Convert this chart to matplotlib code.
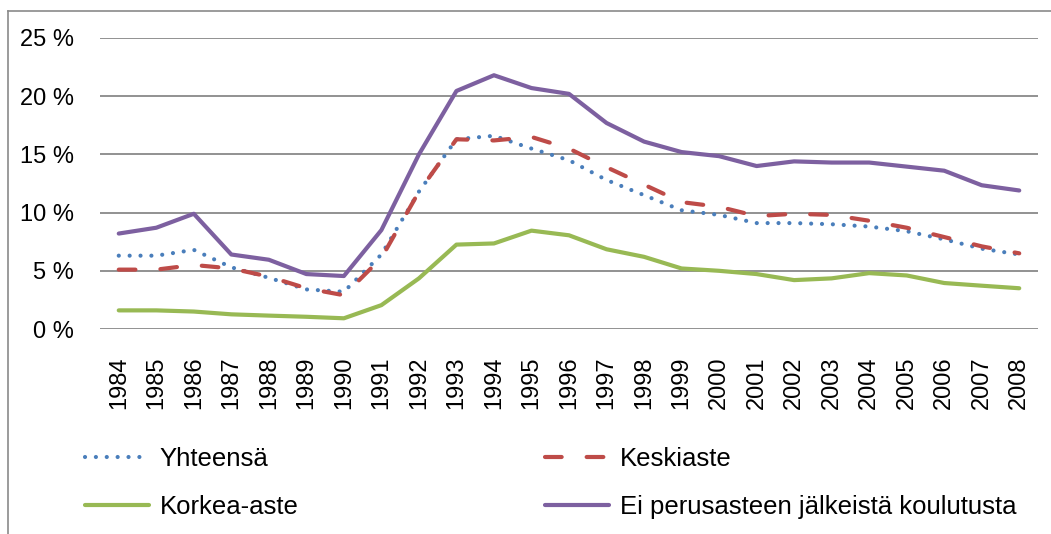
import matplotlib
matplotlib.use("Agg")
import matplotlib.pyplot as plt
from matplotlib.lines import Line2D

years = [str(y) for y in range(1984, 2009)]
yhteensa = [6.3, 6.3, 6.8, 5.3, 4.4, 3.4, 3.2, 6.4, 11.8, 16.3, 16.6, 15.5, 14.5, 12.8, 11.5, 10.2,
            9.8, 9.1, 9.1, 9.0, 8.8, 8.4, 7.7, 6.9, 6.4]
keskiaste = [5.1, 5.1, 5.5, 5.2, 4.5, 3.5, 2.9, 6.1, 11.8, 16.3, 16.2, 16.5, 15.5, 13.9, 12.4, 10.9,
             10.5, 9.7, 9.9, 9.8, 9.3, 8.7, 7.9, 7.1, 6.5]
korkea = [1.6, 1.6, 1.5, 1.26, 1.15, 1.05, 0.92, 2.05, 4.35, 7.25, 7.35, 8.45, 8.05, 6.85, 6.2, 5.2,
          5.0, 4.72, 4.2, 4.35, 4.8, 4.6, 3.95, 3.72, 3.5]
ei_perus = [8.2, 8.7, 9.9, 6.4, 5.95, 4.72, 4.55, 8.5, 15.0, 20.45, 21.8, 20.7, 20.2, 17.7, 16.1, 15.2,
            14.85, 14.0, 14.4, 14.3, 14.3, 13.95, 13.6, 12.35, 11.9]
yticks = [0, 5, 10, 15, 20, 25]
ytick_labels = ["0 %", "5 %", "10 %", "15 %", "20 %", "25 %"]
labels = ["Yhteensä", "Keskiaste", "Korkea-aste", "Ei perusasteen jälkeistä koulutusta"]

plt.rcParams['font.family'] = ['Liberation Sans', 'DejaVu Sans']
FS_TICK = 17
FS_LEG = 18.5

W, H = 1051, 534
fig = plt.figure(figsize=(W / 100, H / 100), dpi=100)
fig.patch.set_facecolor('white')

ax = fig.add_axes([100 / W, 1 - 329 / H, (1038 - 100) / W, (329 - 38) / H])
x = list(range(len(years)))

blue, red, green, purple = '#4A7EBB', '#BE4B48', '#98B954', '#7D60A0'
lw = 3.0
l1, = ax.plot(x, yhteensa, color=blue, lw=3.0, linestyle=(0, (0.01, 2.6)),
              dash_capstyle='round', solid_capstyle='round')
l2, = ax.plot(x, keskiaste, color=red, lw=lw, linestyle=(0, (4, 6)),
              dash_capstyle='round')
l3, = ax.plot(x, korkea, color=green, lw=lw, solid_capstyle='round', solid_joinstyle='round')
l4, = ax.plot(x, ei_perus, color=purple, lw=lw, solid_capstyle='round', solid_joinstyle='round')

ax.set_xlim(-0.5, len(years) - 0.5)
ax.set_ylim(0, 25)
ax.set_yticks(yticks)
ax.set_yticklabels(ytick_labels, fontsize=FS_TICK)
ax.set_xticks(x)
ax.set_xticklabels(years, rotation=90, fontsize=FS_TICK)
ax.tick_params(axis='both', length=0)
ax.tick_params(axis='y', pad=19)
ax.tick_params(axis='x', pad=20)
for s in ax.spines.values():
    s.set_visible(False)
ax.grid(axis='y', color='#898989', lw=1.3)
ax.set_axisbelow(True)

common = dict(loc='upper left', frameon=False, fontsize=FS_LEG, handlelength=2.5,
              handletextpad=0.4, labelspacing=0.95, borderpad=0, borderaxespad=0)
fig.legend([l1, l3], [labels[0], labels[2]], bbox_to_anchor=(85 / W, 1 - 447 / H), **common)
fig.legend([l2, l4], [labels[1], labels[3]], bbox_to_anchor=(545 / W, 1 - 447 / H), **common)

# outer chart border (only top and left edges visible)
fig.add_artist(Line2D([7.5 / W, 7.5 / W], [0, 1 - 11 / H], transform=fig.transFigure,
                      color='#8a8a8a', lw=1.2))
fig.add_artist(Line2D([7.5 / W, 1], [1 - 11 / H, 1 - 11 / H], transform=fig.transFigure,
                      color='#8a8a8a', lw=1.2))

fig.savefig('out.png', dpi=100, facecolor='white')
